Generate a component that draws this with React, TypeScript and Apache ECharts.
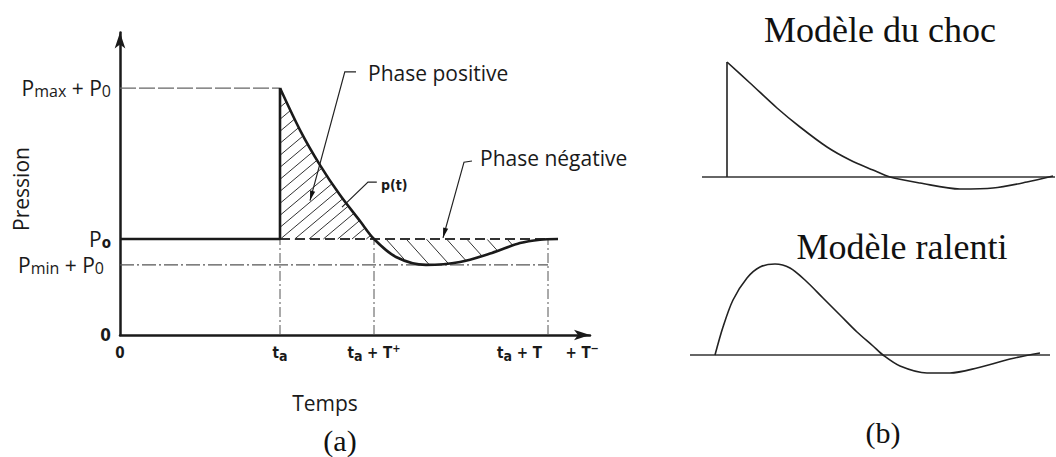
import React, { useEffect, useRef } from "react";
import * as echarts from "echarts";

// ---------- (a) Pression en fonction du temps (unités arbitraires) ----------
const P0 = 4.0;
const PMAX_P0 = 10.29;
const PMIN_P0 = 2.92;
const T_A = 4.0;
const T_A_TPLUS = 6.35;
const T_A_T = 10.7;
const X_MAX = 11.75;
const Y_MAX = 12.6;

const pressureCurve: [number, number][] = [
  [4.0, 10.29], [4.5, 8.54], [5.0, 7.08], [5.5, 5.83], [6.0, 4.75], [6.35, 4.0],
  [6.9, 3.25], [7.65, 2.92], [8.5, 3.04], [9.3, 3.42], [10.0, 3.83], [10.5, 3.97], [10.95, 4.0],
];

const xTickValues = [0, T_A, T_A_TPLUS, T_A_T];
const xTickLabels = ["0", "t{s|a}", "t{s|a} + T{sup|+}", "t{s|a} + T     + T{sup|−}"];
const yTickValues = [0, PMIN_P0, P0, PMAX_P0];
const yTickLabels = ["{z|0}", "P{s|min} + P{s|0}{g|}", "P{s0|o}", "P{s|max} + P{s|0}"];

// ---------- (b) Modèles ----------
const chocBaseline: [number, number][] = [[0.2, 0], [35.5, 0]];
const chocOnset: [number, number][] = [[2.7, 0], [2.7, 11.5]];
const chocCurve: [number, number][] = [
  [2.7, 11.5], [5.0, 9.4], [7.7, 6.9], [10.0, 5.0], [12.7, 3.0], [15.0, 1.7], [17.3, 0.7],
  [19.0, 0], [22.0, -0.6], [26.0, -1.2], [29.3, -1.1], [32.7, -0.5], [35.3, 0.1],
];
const ralentiBaseline: [number, number][] = [[0.2, 0], [36.2, 0]];
const ralentiCurve: [number, number][] = [
  [2.7, 0], [3.5, 2.8], [4.5, 5.5], [5.9, 7.7], [7.2, 8.8], [8.7, 9.1], [10.2, 8.7],
  [11.8, 7.4], [13.5, 5.7], [15.2, 4.0], [16.9, 2.3], [18.5, 0.9], [19.5, 0],
  [21.2, -1.1], [23.9, -1.8], [26.2, -1.8], [28.9, -1.3], [32.2, -0.4], [35.2, 0.2],
];

// annotation leaders (data coordinates of panel a)
const leaders: { pts: [number, number][]; arrow: boolean }[] = [
  { pts: [[5.9, 10.96], [5.62, 10.96], [4.75, 5.6]], arrow: true },
  { pts: [[6.42, 6.37], [6.2, 6.37], [5.55, 5.33]], arrow: false },
  { pts: [[8.8, 7.25], [8.6, 7.2], [8.075, 4.05]], arrow: true },
];

const SANS = "'Open Sans', Lato, sans-serif";
const COND = "'Liberation Sans Narrow', 'DejaVu Sans Condensed', 'Roboto Condensed', 'Liberation Sans', sans-serif";
const SERIF = "'Liberation Serif', 'DejaVu Serif', serif";
const INK = "#1a1a1a";

function hatch(poly: number[][], angleDeg: number, spacing: number, slash: boolean) {
  const a = (angleDeg * Math.PI) / 180;
  const d = [Math.cos(a), slash ? -Math.sin(a) : Math.sin(a)];
  const n = [-d[1], d[0]];
  const proj = poly.map((p) => p[0] * n[0] + p[1] * n[1]);
  const lo = Math.min(...proj);
  const hi = Math.max(...proj);
  const segs: number[][][] = [];
  for (let c = lo + spacing * 0.6; c < hi; c += spacing) {
    const pts: number[][] = [];
    for (let i = 0; i < poly.length; i++) {
      const j = (i + 1) % poly.length;
      const fp = proj[i] - c;
      const fq = proj[j] - c;
      if (fp < 0 !== fq < 0) {
        const t = fp / (fp - fq);
        pts.push([poly[i][0] + t * (poly[j][0] - poly[i][0]), poly[i][1] + t * (poly[j][1] - poly[i][1])]);
      }
    }
    pts.sort((u, v) => u[0] * d[0] + u[1] * d[1] - (v[0] * d[0] + v[1] * d[1]));
    for (let k = 0; k + 1 < pts.length; k += 2) segs.push([pts[k], pts[k + 1]]);
  }
  return segs;
}

function labelFor(values: number[], labels: string[]) {
  return (v: number) => {
    const i = values.findIndex((x) => Math.abs(x - v) < 1e-6);
    return i >= 0 ? labels[i] : "";
  };
}

function lineSeries(data: [number, number][], idx: number, style: any, smooth: any = false) {
  return {
    type: "line",
    xAxisIndex: idx,
    yAxisIndex: idx,
    data,
    smooth,
    symbol: "none",
    silent: true,
    lineStyle: style,
    z: 3,
  };
}

function buildOption(): any {
  const posPoly: [number, number][] = [[T_A, P0], ...pressureCurve.filter((p) => p[0] <= T_A_TPLUS + 1e-9)];
  const negPoly: [number, number][] = [
    ...pressureCurve.filter((p) => p[0] >= T_A_TPLUS - 1e-9 && p[0] <= T_A_T + 1e-9),
  ];

  return {
    animation: false,
    backgroundColor: "#ffffff",
    grid: [
      { left: 120, top: 32.6, width: 470, height: 302.4 },
      { left: 700, top: 57, width: 356, height: 140 },
      { left: 688, top: 255, width: 368, height: 130 },
    ],
    xAxis: [
      {
        type: "value",
        gridIndex: 0,
        min: 0,
        max: X_MAX,
        axisLine: { show: true, onZero: false, symbol: ["none", "arrow"], symbolSize: [8, 16], lineStyle: { color: INK, width: 2.5 } },
        axisTick: { show: false },
        splitLine: { show: false },
        axisLabel: {
          customValues: xTickValues,
          formatter: labelFor(xTickValues, xTickLabels),
          margin: 8,
          color: INK,
          fontFamily: COND,
          fontWeight: "bold",
          fontSize: 15,
          lineHeight: 20,
          rich: {
            s: { fontFamily: COND, fontWeight: "bold", fontSize: 14, lineHeight: 13, verticalAlign: "bottom", color: INK },
            sup: { fontFamily: COND, fontWeight: "bold", fontSize: 11, lineHeight: 11, verticalAlign: "top", color: INK },
          },
        },
      },
      { type: "value", gridIndex: 1, min: 0, max: 35.6, show: false },
      { type: "value", gridIndex: 2, min: 0, max: 36.8, show: false },
    ],
    yAxis: [
      {
        type: "value",
        gridIndex: 0,
        min: 0,
        max: Y_MAX,
        axisLine: { show: true, onZero: false, symbol: ["none", "arrow"], symbolSize: [8, 16], lineStyle: { color: INK, width: 2.5 } },
        axisTick: { show: false },
        splitLine: { show: false },
        axisLabel: {
          customValues: yTickValues,
          formatter: labelFor(yTickValues, yTickLabels),
          margin: 9,
          color: INK,
          fontFamily: SANS,
          fontSize: 21,
          lineHeight: 22,
          rich: {
            s: { fontFamily: SANS, fontSize: 16, lineHeight: 14, verticalAlign: "bottom", color: INK },
            s0: { fontFamily: COND, fontWeight: "bold", fontSize: 15, lineHeight: 14, verticalAlign: "bottom", color: INK },
            z: { fontFamily: COND, fontWeight: "bold", fontSize: 17, color: INK },
            g: { width: 7 },
          },
        },
      },
      { type: "value", gridIndex: 1, min: -2, max: 12, show: false },
      { type: "value", gridIndex: 2, min: -3, max: 10, show: false },
    ],
    series: [
      // reference lines (panel a)
      lineSeries([[0, PMAX_P0], [T_A, PMAX_P0]], 0, { color: "#666", width: 1.2, type: [16, 3] }),
      lineSeries([[0, PMIN_P0], [T_A_T, PMIN_P0]], 0, { color: "#555", width: 1.2, type: [14, 3, 2, 3] }),
      lineSeries([[T_A, P0], [T_A_T, P0]], 0, { color: "#333", width: 1.8, type: [10, 5] }),
      lineSeries([[T_A, 0], [T_A, P0]], 0, { color: "#555", width: 1, type: [10, 3, 2, 3] }),
      lineSeries([[T_A_TPLUS, 0], [T_A_TPLUS, P0]], 0, { color: "#555", width: 1, type: [10, 3, 2, 3] }),
      lineSeries([[T_A_T, 0], [T_A_T, P0]], 0, { color: "#555", width: 1, type: [10, 3, 2, 3] }),
      // pression
      lineSeries([[0, P0], [T_A, P0], [T_A, PMAX_P0]], 0, { color: INK, width: 2.6 }),
      lineSeries(pressureCurve, 0, { color: INK, width: 2.6 }, 0.3),
      // hachures + flèches
      {
        type: "custom",
        xAxisIndex: 0,
        yAxisIndex: 0,
        data: [[0, 0]],
        silent: true,
        z: 2,
        renderItem: (_params: any, api: any) => {
          const px = (p: number[]) => api.coord(p);
          const children: any[] = [];
          const pos = posPoly.map(px);
          hatch(pos, 40, 9.2, true).forEach((s) =>
            children.push({ type: "line", shape: { x1: s[0][0], y1: s[0][1], x2: s[1][0], y2: s[1][1] }, style: { stroke: "#333", lineWidth: 1 } })
          );
          const neg = negPoly.map(px);
          hatch(neg, 48, 15, false).forEach((s) =>
            children.push({ type: "line", shape: { x1: s[0][0], y1: s[0][1], x2: s[1][0], y2: s[1][1] }, style: { stroke: "#333", lineWidth: 1 } })
          );
          leaders.forEach((l) => {
            const pts = l.pts.map(px);
            children.push({ type: "polyline", shape: { points: pts }, style: { stroke: "#222", lineWidth: 1.2, fill: "none" } });
            if (l.arrow) {
              const tip = pts[pts.length - 1];
              const prev = pts[pts.length - 2];
              const dx = tip[0] - prev[0];
              const dy = tip[1] - prev[1];
              const len = Math.hypot(dx, dy);
              const ux = dx / len, uy = dy / len;
              const L = 10, W = 2.6;
              const bx = tip[0] - ux * L, by = tip[1] - uy * L;
              children.push({
                type: "polygon",
                shape: { points: [tip, [bx - uy * W, by + ux * W], [bx + uy * W, by - ux * W]] },
                style: { fill: "#111" },
              });
            }
          });
          return { type: "group", children };
        },
      },
      // (b) modèle du choc
      lineSeries(chocBaseline, 1, { color: "#333", width: 1.4 }),
      lineSeries(chocOnset, 1, { color: "#222", width: 1.6 }),
      lineSeries(chocCurve, 1, { color: "#222", width: 1.6 }, 0.3),
      // (b) modèle ralenti
      lineSeries(ralentiBaseline, 2, { color: "#333", width: 1.4 }),
      lineSeries(ralentiCurve, 2, { color: "#222", width: 1.6 }, 0.3),
    ],
    graphic: [
      { type: "text", x: 21, y: 189, rotation: Math.PI / 2, style: { text: "Pression", font: `21px ${SANS}`, fill: INK, textAlign: "center", textVerticalAlign: "middle" } },
      { type: "text", x: 325, y: 403, style: { text: "Temps", font: `21px ${SANS}`, fill: INK, textAlign: "center", textVerticalAlign: "middle" } },
      { type: "text", x: 340, y: 440, style: { text: "(a)", font: `30px ${SERIF}`, fill: "#111", textAlign: "center", textVerticalAlign: "middle" } },
      { type: "text", x: 368, y: 73, style: { text: "Phase positive", font: `21px ${SANS}`, fill: INK, textAlign: "left", textVerticalAlign: "middle" } },
      { type: "text", x: 381, y: 185, style: { text: "p(t)", font: `bold 14px ${COND}`, fill: INK, textAlign: "left", textVerticalAlign: "middle" } },
      { type: "text", x: 480, y: 158, style: { text: "Phase négative", font: `21px ${SANS}`, fill: INK, textAlign: "left", textVerticalAlign: "middle" } },
      { type: "text", x: 880, y: 30, style: { text: "Modèle du choc", font: `36px ${SERIF}`, fill: "#111", textAlign: "center", textVerticalAlign: "middle" } },
      { type: "text", x: 902, y: 247, style: { text: "Modèle ralenti", font: `36px ${SERIF}`, fill: "#111", textAlign: "center", textVerticalAlign: "middle" } },
      { type: "text", x: 883, y: 432, style: { text: "(b)", font: `30px ${SERIF}`, fill: "#111", textAlign: "center", textVerticalAlign: "middle" } },
    ],
  };
}

export default function App() {
  const ref = useRef<HTMLDivElement>(null);
  useEffect(() => {
    if (!ref.current) return;
    const chart = echarts.init(ref.current, null, { renderer: "svg" });
    chart.setOption(buildOption());
    return () => chart.dispose();
  }, []);
  return (
    <div
      ref={ref}
      style={{ position: "fixed", left: 0, top: 0, width: 1056, height: 457, background: "#fff" }}
    />
  );
}
